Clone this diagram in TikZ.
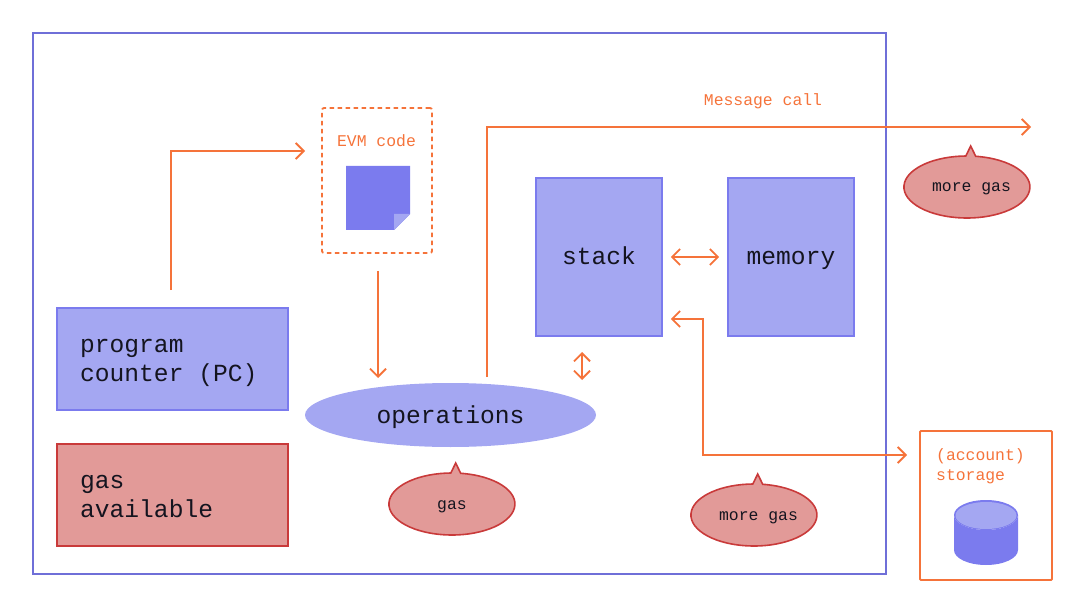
\documentclass[tikz,border=0pt]{standalone}
\usepackage{fontspec}
\setmonofont{Liberation Mono}[WordSpace={1,0,0}]
\usetikzlibrary{arrows.meta,shapes.geometric}
\definecolor{evmblue}{HTML}{A4A7F2}
\definecolor{evmedge}{HTML}{7B7BEE}
\definecolor{evmframe}{HTML}{6F6FD8}
\definecolor{evmred}{HTML}{E29A98}
\definecolor{evmrededge}{HTML}{C93A3A}
\definecolor{evmorange}{HTML}{F5733A}
\definecolor{evmtext}{HTML}{14141F}
\tikzset{
  bluebox/.style={draw=evmedge, fill=evmblue, line width=1.6pt, minimum width=#1, inner sep=0pt, font=\ttfamily\fontsize{24.6}{29}\selectfont, text=evmtext},
  redbox/.style={bluebox=#1, draw=evmrededge, fill=evmred},
  oneline/.style={text height=16pt, text depth=0pt},
  boxlabel/.style={font=\ttfamily\fontsize{24.6}{29}\selectfont, text=evmtext, inner sep=0pt, align=flush left, anchor=north west},
  orangetext/.style={font=\ttfamily\fontsize{16.4}{20}\selectfont, text=evmorange, inner sep=0pt},
  smalltext/.style={font=\ttfamily\fontsize{16.4}{20}\selectfont, text=evmtext, inner sep=0pt, anchor=base},
  bubble/.style={draw=evmrededge, fill=evmred, line width=1.6pt},
  barb/.tip={Straight Barb[length=8pt,width=16pt,line width=1.8pt]},
  flow/.style={draw=evmorange, line width=1.8pt, -barb},
  flowboth/.style={flow, barb-barb}
}
\newcommand{\gasbubble}[5]{
  \draw[bubble] (#2+8.7,#3-30.7) arc (-82:269:63 and 31) -- (#2+3.7,#3-41) -- cycle;
  \node[smalltext] (#1) at (#2+#4,#3+5) {#5};
}
\begin{document}
\begin{tikzpicture}[x=1pt,y=-1pt]
\useasboundingbox (0,0) rectangle (1080,607);
\draw[evmframe, line width=1.6pt] (33,33) rectangle (886,574);

\node[bluebox=231pt, minimum height=102pt] (pc) at (172.5,359) {};
\node[boxlabel] (pclabel) at (80,339) {program\\counter (PC)};
\node[redbox=231pt, minimum height=102pt] (gasleft) at (172.5,495) {};
\node[boxlabel] (gaslabel) at (80,475) {gas\\available};
\node[bluebox=126pt, minimum height=158pt, oneline] (stack) at (599,257) {stack};
\node[bluebox=126pt, minimum height=158pt, oneline] (memory) at (791,257) {memory};
\node[bluebox=291pt, minimum height=64pt, ellipse, draw=none, oneline] (ops) at (450.5,415) {operations};
\node[draw=evmorange, line width=1.8pt, dash pattern=on 4.5pt off 3.5pt, rounded corners=2pt, minimum width=110pt, minimum height=145pt, inner sep=0pt] (evm) at (377,180.5) {};
\node[orangetext] (evmlabel) at (376.5,141) {EVM code};
\node[orangetext] (msglabel) at (763,101.5) {Message call};
\node[draw=evmorange, line width=1.8pt, rounded corners=1pt, minimum width=132pt, minimum height=149pt, inner sep=0pt] (storage) at (986,505.5) {};
\node[orangetext, align=left, anchor=north west] (storagelabel) at (936,448) {(account)\\storage};

% code page
\fill[evmedge] (346,166) -- (410,166) -- (410,214) -- (394,230) -- (346,230) -- cycle;
\fill[evmblue] (394,214) -- (410,214) -- (394,230) -- cycle;

% database
\fill[evmedge] (954,515) -- (954,550) arc (180:0:32 and 15) -- (1018,515) arc (0:180:32 and 15) -- cycle;
\fill[evmedge] (986,515) ellipse (32 and 15);
\fill[evmblue] (986,515.5) ellipse (30.5 and 13.5);

\gasbubble{gasops}{452}{504}{0}{gas}
\gasbubble{gasmem}{754}{515}{4.5}{more gas}
\gasbubble{gascall}{967}{187}{4.5}{more gas}

\coordinate (msgend) at (1031,127);
\coordinate (storein) at (907,455);
\coordinate (opsout) at (487,377);
\coordinate (stackup) at (582,352);
\coordinate (opsup) at (582,380);
\coordinate (evmin) at (305,151);

\draw[flow, shorten <=17pt] ([xshift=-1.5pt]pc.north) |- (evmin);
\draw[flow, shorten <=17pt] ([xshift=1pt]evm.south) -- ([xshift=1pt]evm.south |- 0,378);
\draw[flow] (opsout) |- (msgend);
\draw[flowboth] (stackup) -- (opsup);
\draw[flowboth, shorten <=8pt, shorten >=8pt] (stack.east) -- (memory.west);
\draw[flowboth, shorten >=8pt] (storein) -| (703,319) -- ([yshift=-62pt]stack.east);
\end{tikzpicture}
\end{document}
